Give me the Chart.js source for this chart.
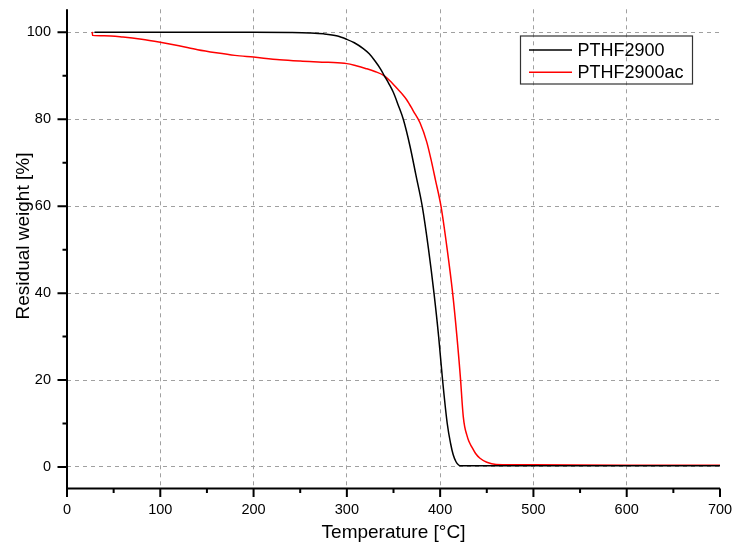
<!DOCTYPE html>
<html>
<head>
<meta charset="utf-8">
<script src="https://cdn.jsdelivr.net/npm/chart.js@4/dist/chart.umd.min.js"></script>
<style>
  html, body { margin: 0; padding: 0; background: #ffffff; }
  #wrap { width: 737px; height: 547px; }
</style>
</head>
<body>
<div id="wrap"><canvas id="c" width="737" height="547"></canvas></div>
<script>
// ---- Data ----
const seriesNames = ["PTHF2900", "PTHF2900ac"];
const seriesColors = ["#000000", "#ff0000"];

const blackTemp = [29.5, 60, 100, 150, 200, 240, 260, 275, 290, 299.8, 308, 317.6, 324, 330.2, 336, 340.2, 345, 349.8, 355, 360.5, 367.7, 374, 380.8, 387.6, 393.4, 398.4, 402.6, 407.6, 411.2, 414, 417, 419.5, 421.2, 425, 450, 500, 600, 700];
const blackWeight = [100, 100, 100, 100, 100, 99.95, 99.85, 99.65, 99.15, 98.4, 97.6, 96.25, 95.05, 93.4, 91.6, 90.0, 88.2, 86.2, 83.3, 80.0, 73.8, 67.2, 60, 50, 40, 30, 20, 10, 5.4, 2.8, 1.2, 0.5, 0.3, 0.3, 0.3, 0.3, 0.3, 0.3];

const redTemp = [27, 27.5, 40, 60, 80, 100, 120, 140, 160, 180, 200, 228, 250, 280, 300, 310, 320, 330, 340.2, 347, 353.4, 359, 364.1, 371.3, 378.4, 385.6, 390.8, 395, 400.9, 407.6, 413.4, 418, 422, 423.5, 424.8, 426.3, 428.4, 430.8, 433.7, 438, 442.7, 450, 460, 500, 600, 700];
const redWeight = [100.1, 99.3, 99.2, 98.9, 98.4, 97.7, 96.9, 96.0, 95.3, 94.7, 94.3, 93.7, 93.4, 93.1, 92.8, 92.3, 91.7, 91.0, 90.0, 88.7, 87.2, 85.9, 84.5, 81.9, 79.2, 74.8, 70.2, 66, 60, 50, 40, 30, 19.8, 15.0, 11.6, 9.3, 7.5, 5.9, 4.7, 3.1, 2.0, 1.1, 0.6, 0.5, 0.4, 0.4];

const xTicksMajor = [0, 100, 200, 300, 400, 500, 600, 700];
const yTicksMajor = [0, 20, 40, 60, 80, 100];
const xTitle = "Temperature [°C]";
const yTitle = "Residual weight [%]";

const FONT = "Arial, 'Liberation Sans', sans-serif";

function toPoints(xs, ys) { return xs.map((x, i) => ({ x: x, y: ys[i] })); }

const axesPlugin = {
  id: 'originAxes',
  afterDraw(chart) {
    const ctx = chart.ctx;
    const xs = chart.scales.x, ys = chart.scales.y;
    const ca = chart.chartArea;
    ctx.save();
    ctx.strokeStyle = '#000';
    ctx.lineWidth = 2;
    ctx.lineCap = 'butt';
    // axis lines
    ctx.beginPath();
    ctx.moveTo(ca.left, ca.top);
    ctx.lineTo(ca.left, ca.bottom + 1);
    ctx.moveTo(ca.left - 1, ca.bottom);
    ctx.lineTo(ca.right, ca.bottom);
    ctx.stroke();
    // x ticks (major every 100, minor every 50)
    ctx.beginPath();
    for (let v = 0; v <= 700; v += 50) {
      const px = xs.getPixelForValue(v);
      const len = (v % 100 === 0) ? 8.5 : 4.5;
      ctx.moveTo(px, ca.bottom);
      ctx.lineTo(px, ca.bottom + len);
    }
    // y ticks (major every 20, minor every 10)
    for (let v = 0; v <= 100; v += 10) {
      const py = ys.getPixelForValue(v);
      const len = (v % 20 === 0) ? 9.5 : 4.5;
      ctx.moveTo(ca.left, py);
      ctx.lineTo(ca.left - len, py);
    }
    ctx.stroke();

    // axis titles
    ctx.fillStyle = '#000';
    ctx.font = '19px ' + FONT;
    ctx.textAlign = 'center';
    ctx.textBaseline = 'alphabetic';
    ctx.fillText(xTitle, (ca.left + ca.right) / 2, 538);
    ctx.save();
    ctx.translate(29, 236);
    ctx.rotate(-Math.PI / 2);
    ctx.fillText(yTitle, 0, 0);
    ctx.restore();

    // legend
    const bx = 520, by = 35.5, bw = 172, bh = 48;
    ctx.lineWidth = 1.2;
    ctx.strokeStyle = '#333';
    ctx.strokeRect(bx + 0.5, by + 0.5, bw, bh);
    ctx.font = '18px ' + FONT;
    ctx.textAlign = 'left';
    chart.data.datasets.forEach((ds, i) => {
      const ly = 50 + i * 22.3;
      ctx.strokeStyle = ds.borderColor;
      ctx.lineWidth = 1.5;
      ctx.beginPath();
      ctx.moveTo(529, ly);
      ctx.lineTo(572, ly);
      ctx.stroke();
      ctx.fillStyle = '#000';
      ctx.fillText(ds.label, 577.5, ly + 6);
    });
    ctx.restore();
  }
};

new Chart(document.getElementById('c'), {
  type: 'scatter',
  data: {
    datasets: [
      {
        label: seriesNames[0],
        data: toPoints(blackTemp, blackWeight),
        borderColor: seriesColors[0],
        backgroundColor: seriesColors[0],
        showLine: true,
        pointRadius: 0,
        borderWidth: 1.5,
        cubicInterpolationMode: 'monotone'
      },
      {
        label: seriesNames[1],
        data: toPoints(redTemp, redWeight),
        borderColor: seriesColors[1],
        backgroundColor: seriesColors[1],
        showLine: true,
        pointRadius: 0,
        borderWidth: 1.5,
        cubicInterpolationMode: 'monotone'
      }
    ]
  },
  options: {
    responsive: false,
    animation: false,
    devicePixelRatio: 1,
    layout: { padding: { left: 0, top: 9.3, right: 17, bottom: 0 } },
    plugins: { legend: { display: false }, tooltip: { enabled: false } },
    scales: {
      x: {
        type: 'linear',
        min: 0, max: 700,
        afterFit(s) { s.height = 58.5; s.paddingLeft = 0; s.paddingRight = 0; s.paddingTop = 0; s.paddingBottom = 0; },
        afterBuildTicks(s) { s.ticks = xTicksMajor.map(v => ({ value: v })); },
        ticks: { stepSize: 100, includeBounds: false, autoSkip: false, maxRotation: 0, padding: 13, color: '#000', font: { family: FONT, size: 14.5 } },
        grid: {
          drawTicks: false,
          lineWidth: 1,
          color: (c) => (c.tick && (c.tick.value === 0 || c.tick.value === 700)) ? 'rgba(0,0,0,0)' : '#a0a0a0'
        },
        border: { display: false, dash: [4, 4] }
      },
      y: {
        type: 'linear',
        min: -4.95, max: 105.3,
        afterFit(s) { s.width = 67; s.paddingLeft = 0; s.paddingRight = 0; s.paddingTop = 0; s.paddingBottom = 0; },
        afterBuildTicks(s) { s.ticks = yTicksMajor.map(v => ({ value: v })); },
        ticks: { stepSize: 20, includeBounds: false, autoSkip: false, padding: 16, color: '#000', font: { family: FONT, size: 14.5 } },
        grid: {
          drawTicks: false,
          lineWidth: 1,
          color: '#a0a0a0'
        },
        border: { display: false, dash: [4, 4] }
      }
    }
  },
  plugins: [axesPlugin]
});
</script>
</body>
</html>
